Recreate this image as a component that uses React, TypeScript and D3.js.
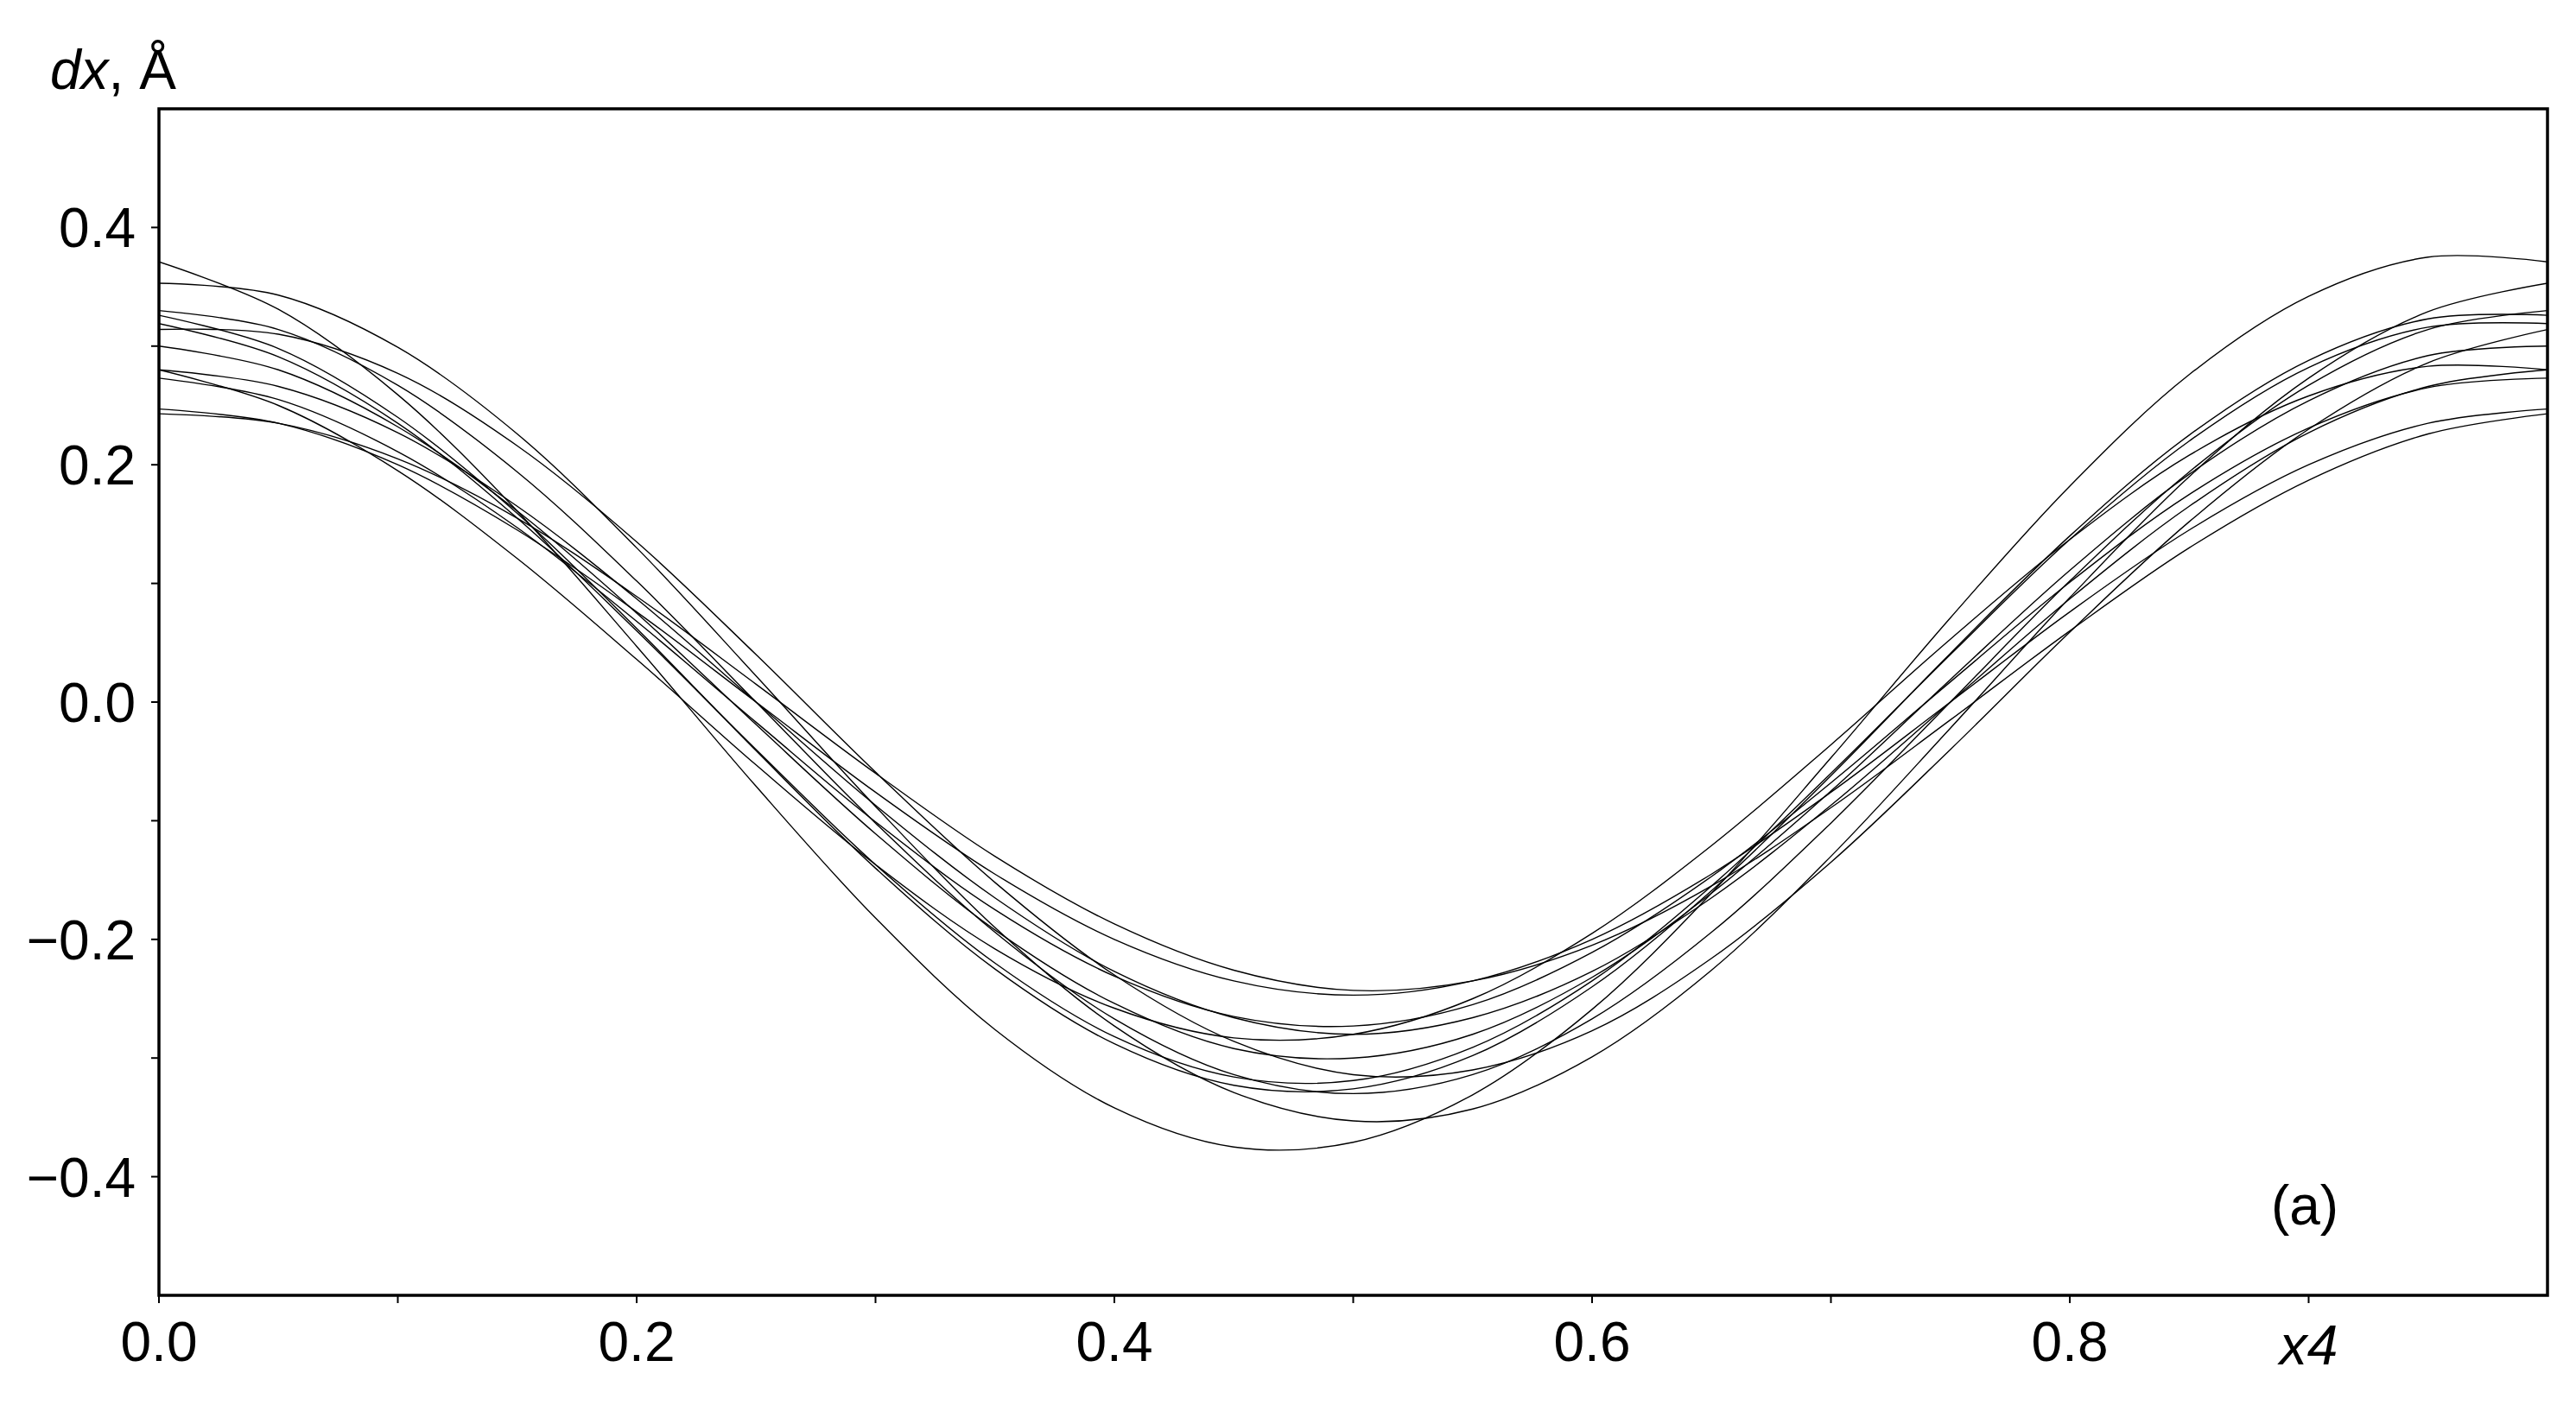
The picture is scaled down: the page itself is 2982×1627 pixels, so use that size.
import React from "react";
import * as d3 from "d3";

// x4 sample positions
const x4Values = [0, 0.05, 0.1, 0.15, 0.2, 0.25, 0.3, 0.35, 0.4, 0.45, 0.5, 0.55, 0.6, 0.65, 0.7, 0.75, 0.8, 0.85, 0.9, 0.95, 1.0];

// dx (Å) values, one array per curve
const curve01 = [0.371, 0.331, 0.259, 0.161, 0.047, -0.071, -0.182, -0.276, -0.342, -0.375, -0.371, -0.331, -0.259, -0.161, -0.047, 0.071, 0.182, 0.276, 0.342, 0.375, 0.371];
const curve02 = [0.353, 0.343, 0.299, 0.226, 0.130, 0.022, -0.088, -0.190, -0.273, -0.329, -0.353, -0.343, -0.299, -0.226, -0.130, -0.022, 0.088, 0.190, 0.273, 0.329, 0.353];
const curve03 = [0.330, 0.314, 0.267, 0.194, 0.102, 0.000, -0.102, -0.194, -0.267, -0.314, -0.330, -0.314, -0.267, -0.194, -0.102, 0.000, 0.102, 0.194, 0.267, 0.314, 0.330];
const curve04 = [0.326, 0.298, 0.240, 0.159, 0.062, -0.041, -0.140, -0.225, -0.288, -0.323, -0.326, -0.298, -0.240, -0.159, -0.062, 0.041, 0.140, 0.225, 0.288, 0.323, 0.326];
const curve05 = [0.319, 0.291, 0.235, 0.155, 0.060, -0.040, -0.137, -0.220, -0.282, -0.316, -0.319, -0.291, -0.235, -0.155, -0.060, 0.040, 0.137, 0.220, 0.282, 0.316, 0.319];
const curve06 = [0.314, 0.310, 0.277, 0.216, 0.135, 0.040, -0.059, -0.152, -0.230, -0.286, -0.314, -0.310, -0.277, -0.216, -0.135, -0.040, 0.059, 0.152, 0.230, 0.286, 0.314];
const curve07 = [0.300, 0.280, 0.232, 0.161, 0.075, -0.019, -0.111, -0.192, -0.254, -0.292, -0.300, -0.280, -0.232, -0.161, -0.075, 0.019, 0.111, 0.192, 0.254, 0.292, 0.300];
const curve08 = [0.280, 0.250, 0.195, 0.121, 0.036, -0.053, -0.137, -0.208, -0.258, -0.283, -0.280, -0.250, -0.195, -0.121, -0.036, 0.053, 0.137, 0.208, 0.258, 0.283, 0.280];
const curve09 = [0.280, 0.266, 0.227, 0.165, 0.087, 0.000, -0.087, -0.165, -0.227, -0.266, -0.280, -0.266, -0.227, -0.165, -0.087, 0.000, 0.087, 0.165, 0.227, 0.266, 0.280];
const curve10 = [0.273, 0.255, 0.211, 0.147, 0.068, -0.017, -0.101, -0.175, -0.231, -0.265, -0.273, -0.255, -0.211, -0.147, -0.068, 0.017, 0.101, 0.175, 0.231, 0.265, 0.273];
const curve11 = [0.247, 0.235, 0.200, 0.145, 0.076, 0.000, -0.076, -0.145, -0.200, -0.235, -0.247, -0.235, -0.200, -0.145, -0.076, 0.000, 0.076, 0.145, 0.200, 0.235, 0.247];
const curve12 = [0.243, 0.235, 0.205, 0.155, 0.089, 0.015, -0.060, -0.130, -0.187, -0.226, -0.243, -0.235, -0.205, -0.155, -0.089, -0.015, 0.060, 0.130, 0.187, 0.226, 0.243];

const allCurves = [curve01, curve02, curve03, curve04, curve05, curve06, curve07, curve08, curve09, curve10, curve11, curve12];

// axis ticks
const xTicks = [0, 0.1, 0.2, 0.3, 0.4, 0.5, 0.6, 0.7, 0.8, 0.9];
const xTickLabels = ["0.0", "", "0.2", "", "0.4", "", "0.6", "", "0.8", ""];
const yTicks = [-0.4, -0.3, -0.2, -0.1, 0, 0.1, 0.2, 0.3, 0.4];
const yTickLabels = ["\u22120.4", "", "\u22120.2", "", "0.0", "", "0.2", "", "0.4"];

const W = 2982;
const H = 1627;
const FONT = "'Liberation Sans', Arial, Helvetica, sans-serif";

export default function App() {
  const left = 184, right = 2949, top = 126, bottom = 1500;
  const x = d3.scaleLinear().domain([0, 1]).range([left, right]);
  const y = d3.scaleLinear().domain([-0.5, 0.5]).range([bottom, top]);

  const line = d3
    .line<number>()
    .x((_, i) => x(x4Values[i]))
    .y((d) => y(d))
    .curve(d3.curveCatmullRom.alpha(0.5));

  return (
    <svg
      width={W}
      height={H}
      viewBox={`0 0 ${W} ${H}`}
      style={{ position: "absolute", left: 0, top: 0, background: "#fff" }}
      fontFamily={FONT}
    >
      <rect x={0} y={0} width={W} height={H} fill="#fff" />
      <defs>
        <clipPath id="plotClip">
          <rect x={left} y={top} width={right - left} height={bottom - top} />
        </clipPath>
      </defs>

      <g clipPath="url(#plotClip)">
        {allCurves.map((c, i) => (
          <path key={i} d={line(c) || ""} fill="none" stroke="#000" strokeWidth={1.4} />
        ))}
      </g>

      <rect x={left} y={top} width={right - left} height={bottom - top} fill="none" stroke="#000" strokeWidth={3.5} />

      {yTicks.map((t, i) => (
        <g key={"y" + i}>
          <line x1={left - 9} x2={left} y1={y(t)} y2={y(t)} stroke="#000" strokeWidth={2} />
          {yTickLabels[i] && (
            <text x={157} y={y(t)} dy="0.36em" textAnchor="end" fontSize={64} fill="#000">
              {yTickLabels[i]}
            </text>
          )}
        </g>
      ))}

      {xTicks.map((t, i) => (
        <g key={"x" + i}>
          <line x1={x(t)} x2={x(t)} y1={bottom} y2={bottom + 9} stroke="#000" strokeWidth={2} />
          {xTickLabels[i] && (
            <text x={x(t)} y={1576} textAnchor="middle" fontSize={64} fill="#000">
              {xTickLabels[i]}
            </text>
          )}
        </g>
      ))}

      <text x={x(0.9)} y={1580} textAnchor="middle" fontSize={64} fill="#000" fontStyle="italic">
        x4
      </text>

      <text x={2668} y={1418} textAnchor="middle" fontSize={64} fill="#000">
        (a)
      </text>

      <text x={58} y={103} fontSize={64} fill="#000">
        <tspan fontStyle="italic">dx</tspan>
        <tspan>, Å</tspan>
      </text>
    </svg>
  );
}
